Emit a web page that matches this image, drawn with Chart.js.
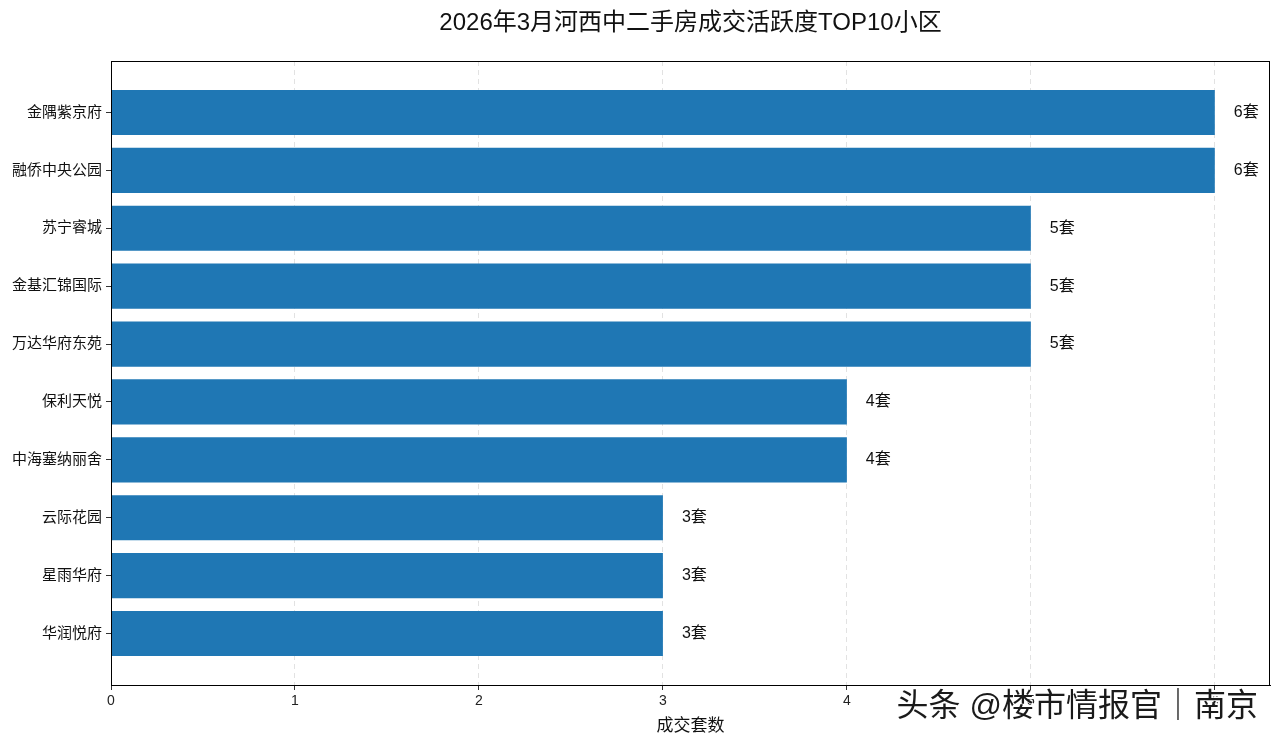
<!DOCTYPE html>
<html><head><meta charset="utf-8">
<script src="https://cdn.jsdelivr.net/npm/chart.js@4/dist/chart.umd.min.js"></script>
<style>html,body{margin:0;padding:0;background:#fff}#wrap{width:1280px;height:743px}</style>
</head><body><div id="wrap"><canvas id="c" width="1280" height="743"></canvas></div>
<script>
const categories = ["金隅紫京府","融侨中央公园","苏宁睿城","金基汇锦国际","万达华府东苑","保利天悦","中海塞纳丽舍","云际花园","星雨华府","华润悦府"];
const values = [6,6,5,5,5,4,4,3,3,3];
const xTicks = [0,1,2,3,4,5,6];
const titleText = "2026年3月河西中二手房成交活跃度TOP10小区";
const xTitle = "成交套数";
const unit = "套";
const watermark = "头条 @楼市情报官｜南京";

const FONT = "'Liberation Sans','Noto Sans CJK SC',sans-serif";

const extras = {
  id: 'extras',
  afterDatasetsDraw(chart) {
    const {ctx, chartArea, scales} = chart;
    ctx.save();
    ctx.strokeStyle = '#000'; ctx.lineWidth = 1;
    ctx.strokeRect(chartArea.left + 0.5, chartArea.top + 0.5, chartArea.right - chartArea.left - 1, chartArea.bottom - chartArea.top);
    ctx.fillStyle = '#111';
    ctx.font = "16px " + FONT;
    ctx.textAlign = 'left'; ctx.textBaseline = 'middle';
    values.forEach((v, i) => {
      ctx.fillText(v + unit, scales.x.getPixelForValue(v) + 19, scales.y.getPixelForValue(i));
    });
    ctx.font = "24px " + FONT;
    ctx.textAlign = 'center';
    ctx.fillText(titleText, (chartArea.left + chartArea.right) / 2, 23);
    ctx.restore();
  },
  afterDraw(chart) {
    const {ctx} = chart;
    ctx.save();
    ctx.font = "32px " + FONT;
    ctx.textAlign = 'right'; ctx.textBaseline = 'middle';
    ctx.fillStyle = '#fff';
    ctx.fillText(watermark, 1260, 709);
    ctx.fillStyle = '#1a1a1a';
    ctx.fillText(watermark, 1258, 707);
    ctx.restore();
  }
};

new Chart(document.getElementById('c'), {
  type: 'bar',
  data: {
    datasets: [{
      data: values.map((v, i) => ({x: v, y: i})),
      backgroundColor: '#1f77b4',
      borderWidth: 0,
      barPercentage: 0.78,
      categoryPercentage: 1.0
    }]
  },
  options: {
    indexAxis: 'y',
    responsive: false,
    animation: false,
    layout: {padding: {top: 61, right: 10, left: 0, bottom: 0}},
    plugins: {legend: {display: false}, tooltip: {enabled: false}, title: {display: false}},
    scales: {
      x: {
        type: 'linear', min: 0, max: 6.3,
        afterBuildTicks: (axis) => { axis.ticks = xTicks.map(v => ({value: v})); },
        afterFit: (axis) => { axis.height = 58; },
        ticks: {color: '#222', font: {family: FONT, size: 14}, padding: 3, maxRotation: 0},
        grid: {color: '#e2e2e2', lineWidth: 1, tickLength: 5, tickColor: '#333', tickBorderDash: []},
        border: {display: true, color: '#000', dash: [5, 4]},
        title: {display: true, text: xTitle, color: '#111', font: {family: FONT, size: 17}, padding: {top: 0, bottom: 6}}
      },
      y: {
        type: 'linear', min: -0.89, max: 9.89, reverse: true,
        offset: false,
        afterBuildTicks: (axis) => { axis.ticks = categories.map((_, i) => ({value: i})); },
        afterFit: (axis) => { axis.width = 111; },
        ticks: {color: '#111', font: {family: FONT, size: 15}, padding: 4, callback: (v) => categories[v] ?? ''},
        grid: {offset: false, drawOnChartArea: false, tickLength: 5, tickColor: '#333'},
        border: {display: true, color: '#000'}
      }
    }
  },
  plugins: [extras]
});
</script></body></html>
